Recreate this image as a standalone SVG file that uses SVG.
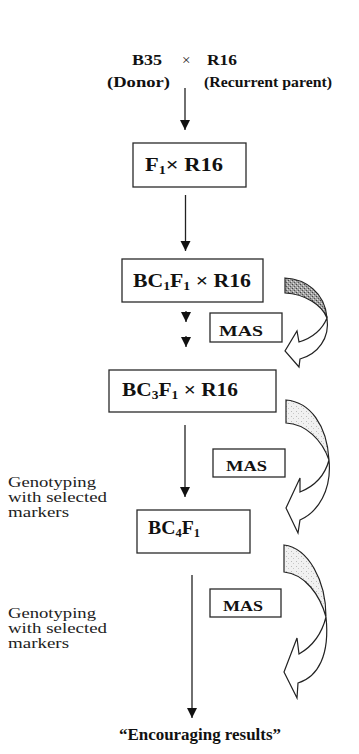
<svg xmlns="http://www.w3.org/2000/svg" width="359" height="754" viewBox="0 0 359 754">
  <defs>
    <style>
      .box { fill: #fff; stroke: #2a2a2a; stroke-width: 1.3; }
      .lbl { font-family: "Liberation Serif", "Times New Roman", serif; font-weight: bold; fill: #111; }
      .big { font-size: 19px; }
      .mas { font-size: 15px; }
      .note { font-family: "Liberation Serif", "Times New Roman", serif; font-size: 15px; fill: #222; }
      .flow { fill: none; stroke: #222; stroke-width: 1.3; marker-end: url(#head); }
      .band { stroke: #222; stroke-width: 1.2; stroke-linejoin: miter; }
      .sub { font-size: 12px; }
    </style>
    <marker id="head" markerUnits="userSpaceOnUse" markerWidth="11" markerHeight="11" refX="10" refY="5" orient="auto">
      <path d="M0,0 L10,5 L0,10 z" fill="#111"/>
    </marker>
    <!-- stippled fills for the ribbon arrows -->
    <pattern id="dotsDark" patternUnits="userSpaceOnUse" width="4" height="4">
      <rect width="4" height="4" fill="#a0a0a0"/>
      <rect x="0" y="0" width="1" height="1" fill="#444"/>
      <rect x="2" y="2" width="1" height="1" fill="#555"/>
      <rect x="3" y="1" width="1" height="1" fill="#ddd"/>
      <rect x="1" y="3" width="1" height="1" fill="#e0e0e0"/>
    </pattern>
    <pattern id="dotsLight" patternUnits="userSpaceOnUse" width="5" height="5">
      <rect width="5" height="5" fill="#f1f1f1"/>
      <rect x="1" y="1" width="1" height="1" fill="#bbb"/>
      <rect x="3" y="3" width="1" height="1" fill="#c8c8c8"/>
    </pattern>
  </defs>

  <!-- parents -->
  <g id="parents">
    <text class="lbl" font-size="15" x="132" y="65" textLength="30" lengthAdjust="spacingAndGlyphs">B35</text>
    <text class="note" font-size="14" x="182" y="65" fill="#666">×</text>
    <text class="lbl" font-size="15" x="207" y="65" textLength="30" lengthAdjust="spacingAndGlyphs">R16</text>
    <text class="lbl" font-size="15" x="107" y="87" textLength="63" lengthAdjust="spacingAndGlyphs">(Donor)</text>
    <text class="lbl" font-size="15" x="204" y="87" textLength="128" lengthAdjust="spacingAndGlyphs">(Recurrent parent)</text>
  </g>

  <g id="f1">
    <rect class="box" x="133" y="143" width="113" height="44"/>
    <text class="lbl big" x="145" y="171" textLength="78" lengthAdjust="spacingAndGlyphs">F<tspan class="sub" dy="3">1</tspan><tspan dy="-3">×  R16</tspan></text>
  </g>

  <g id="bc1f1">
    <rect class="box" x="122" y="259" width="141" height="43"/>
    <text class="lbl big" x="133" y="287" textLength="118" lengthAdjust="spacingAndGlyphs">BC<tspan class="sub" dy="3">1</tspan><tspan dy="-3">F</tspan><tspan class="sub" dy="3">1</tspan><tspan dy="-3"> ×  R16</tspan></text>
  </g>

  <g id="mas1">
    <rect class="box" x="210" y="313" width="72" height="29"/>
    <text class="lbl mas" x="219" y="336" textLength="44" lengthAdjust="spacingAndGlyphs">MAS</text>
  </g>

  <g id="bc3f1">
    <rect class="box" x="109" y="370" width="167" height="42"/>
    <text class="lbl big" x="122" y="396" textLength="116" lengthAdjust="spacingAndGlyphs">BC<tspan class="sub" dy="3">3</tspan><tspan dy="-3">F</tspan><tspan class="sub" dy="3">1</tspan><tspan dy="-3"> ×  R16</tspan></text>
  </g>

  <g id="mas2">
    <rect class="box" x="213" y="449" width="72" height="28"/>
    <text class="lbl mas" x="226" y="471" textLength="41" lengthAdjust="spacingAndGlyphs">MAS</text>
  </g>

  <g id="bc4f1">
    <rect class="box" x="137" y="510" width="113" height="43"/>
    <text class="lbl big" x="148" y="534" textLength="52" lengthAdjust="spacingAndGlyphs">BC<tspan class="sub" dy="3">4</tspan><tspan dy="-3">F</tspan><tspan class="sub" dy="3">1</tspan></text>
  </g>

  <g id="mas3">
    <rect class="box" x="210" y="589" width="71" height="28"/>
    <text class="lbl mas" x="223" y="611" textLength="40" lengthAdjust="spacingAndGlyphs">MAS</text>
  </g>

  <g id="genotyping1">
    <text class="note" x="8" y="487" textLength="88" lengthAdjust="spacingAndGlyphs">Genotyping</text>
    <text class="note" x="8" y="502" textLength="99" lengthAdjust="spacingAndGlyphs">with selected</text>
    <text class="note" x="8" y="517" textLength="61" lengthAdjust="spacingAndGlyphs">markers</text>
  </g>

  <g id="genotyping2">
    <text class="note" x="8" y="618" textLength="88" lengthAdjust="spacingAndGlyphs">Genotyping</text>
    <text class="note" x="8" y="633" textLength="99" lengthAdjust="spacingAndGlyphs">with selected</text>
    <text class="note" x="8" y="648" textLength="61" lengthAdjust="spacingAndGlyphs">markers</text>
  </g>

  <g id="result">
    <text class="lbl" font-size="16" x="119" y="740" textLength="162" lengthAdjust="spacingAndGlyphs">“Encouraging results”</text>
  </g>

  <!-- connectors: main flow and the MAS ribbon arrows -->
  <g id="connectors">
    <path class="flow" d="M185,88 V130"/>
    <path class="flow" d="M185.5,195 V251"/>
    <path class="flow" d="M186,311 V322"/>
    <path class="flow" d="M186,336 V347"/>
    <path class="flow" d="M185,425 V497"/>
    <path class="flow" d="M192,575 V718"/>

    <g id="ribbon1">
      <path class="band" fill="url(#dotsDark)" d="M285,278 C305,279 325,292 327,318 C322,305 305,294 285,293 Z"/>
      <path class="band" fill="#fff" d="M327,318 C330,338 318,354 300,359 L299,367 L285,351 L297,331 L299,342 C312,338 322,330 327,318 Z"/>
    </g>
    <g id="ribbon2">
      <path class="band" fill="url(#dotsLight)" d="M286,400 C310,402 327,425 329,460 C322,440 306,424 286,423 Z"/>
      <path class="band" fill="#fff" d="M329,460 C332,490 318,512 300,520 L298,533 L286,508 L300,478 L300,492 C315,486 325,475 329,460 Z"/>
    </g>
    <g id="ribbon3">
      <path class="band" fill="url(#dotsLight)" d="M284,545 C308,548 326,580 326,617 C320,595 305,574 284,572 Z"/>
      <path class="band" fill="#fff" d="M326,617 C330,655 318,677 298,683 L297,698 L284,672 L297,638 L299,654 C313,646 322,633 326,617 Z"/>
    </g>
  </g>
</svg>
